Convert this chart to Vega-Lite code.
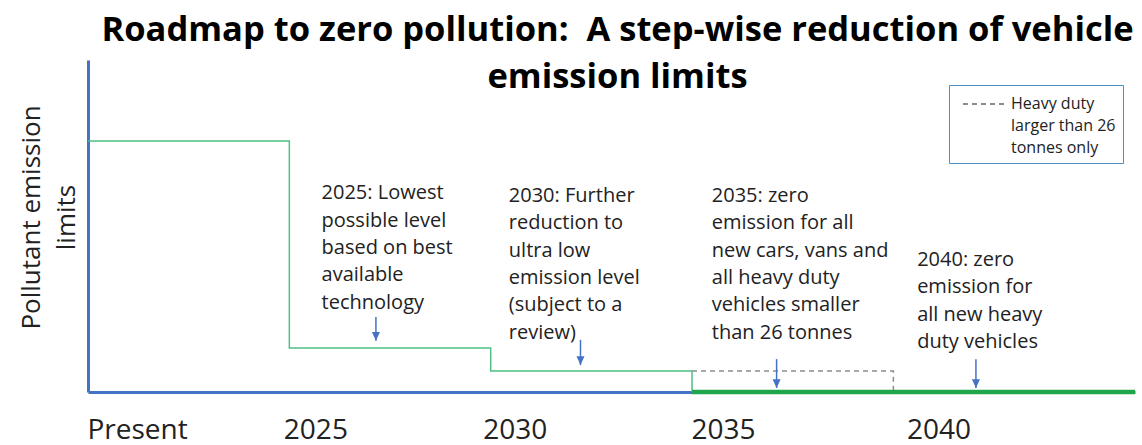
{
  "$schema": "https://vega.github.io/schema/vega-lite/v6.json",
  "width": 1047,
  "height": 332,
  "autosize": {"type": "none"},
  "padding": {"left": 88, "top": 60, "right": 7, "bottom": 53},
  "background": "white",
  "config": {"view": {"stroke": null}, "font": "Open Sans"},
  "title": {
    "text": ["Roadmap to zero pollution:\u00a0 A step-wise reduction of vehicle", "emission limits"],
    "font": "Open Sans", "fontSize": 34.5, "fontWeight": "bold", "color": "#000000",
    "anchor": "middle", "frame": "group", "lineHeight": 47, "offset": -35.5, "dx": 6
  },
  "datasets": {
    "steps": [
      {"year": 2020, "level": 75.6},
      {"year": 2025, "level": 13.25},
      {"year": 2030, "level": 6.3},
      {"year": 2035, "level": 0}
    ],
    "heavy": [
      {"year": 2035, "level": 6.3, "series": "Heavy duty larger than 26 tonnes only"},
      {"year": 2040, "level": 0, "series": "Heavy duty larger than 26 tonnes only"}
    ],
    "zero": [{"start": 2035, "end": 2046, "level": 0}],
    "arrows": [
      {"year": 2027.15, "from": 22.6, "to": 15.4},
      {"year": 2032.23, "from": 15.7, "to": 8.1},
      {"year": 2037.1, "from": 9.9, "to": 1.2},
      {"year": 2042.05, "from": 9.9, "to": 1.2}
    ],
    "notes": [
      {"year": 2025.8, "level": 58.0, "text": "2025: Lowest\npossible level\nbased on best\navailable\ntechnology"},
      {"year": 2030.45, "level": 57.2, "text": "2030: Further\nreduction to\nultra low\nemission level\n(subject to a\nreview)"},
      {"year": 2035.49, "level": 57.2, "text": "2035: zero\nemission for all\nnew cars, vans and\nall heavy duty\nvehicles smaller\nthan 26 tonnes"},
      {"year": 2040.59, "level": 37.95, "text": "2040: zero\nemission for\nall new heavy\nduty vehicles"}
    ]
  },
  "layer": [
    {
      "data": {"name": "steps"},
      "mark": {"type": "line", "interpolate": "step-after", "color": "#4fbf86", "strokeWidth": 1.5},
      "encoding": {
        "x": {
          "field": "year", "type": "quantitative",
          "scale": {"domain": [2020, 2046], "nice": false, "zero": false},
          "axis": {
            "values": [2020, 2025, 2030, 2035, 2040],
            "labelExpr": "datum.value == 2020 ? 'Present' : datum.label",
            "format": "d",
            "labelAlign": "left", "labelBaseline": "alphabetic", "labelPadding": 46,
            "labelOffset": {"expr": "datum.value == 2025 ? -6 : datum.value == 2030 ? -8 : datum.value == 2040 ? 13 : -1"},
            "labelFont": "Open Sans", "labelFontSize": 28, "labelColor": "#222222",
            "labelFlush": false, "labelOverlap": false,
            "domainColor": "#4472C4", "domainWidth": 3,
            "ticks": false, "tickSize": 0, "grid": false, "title": null
          }
        },
        "y": {
          "field": "level", "type": "quantitative",
          "scale": {"domain": [0, 100], "nice": false},
          "axis": {
            "title": ["Pollutant emission", "limits"],
            "domainColor": "#4472C4", "domainWidth": 3,
            "ticks": false, "tickSize": 0, "labels": false, "grid": false,
            "titleFont": "Open Sans", "titleFontSize": 26, "titleFontWeight": "normal",
            "titleColor": "#222222", "titleLineHeight": 35,
            "titleX": -49, "titleY": 157, "titleAlign": "center",
            "titleBaseline": "alphabetic", "titleAngle": -90
          }
        }
      }
    },
    {
      "data": {"name": "heavy"},
      "mark": {"type": "line", "interpolate": "step-after", "color": "#8c8c8c", "strokeWidth": 1.5},
      "encoding": {
        "x": {"field": "year", "type": "quantitative"},
        "y": {"field": "level", "type": "quantitative"},
        "strokeDash": {
          "field": "series", "type": "nominal",
          "scale": {"range": [[5, 4]]},
          "legend": {
            "orient": "none", "legendX": 861, "legendY": 25,
            "title": null,
            "symbolType": "M-2,0L2,0", "symbolSize": 484, "symbolStrokeWidth": 2,
            "symbolStrokeColor": "#8c8c8c", "symbolFillColor": "transparent",
            "symbolDash": [10, 6], "symbolOffset": 17,
            "labelExpr": "['Heavy duty', 'larger than 26', 'tonnes only']",
            "labelFont": "Open Sans", "labelFontSize": 16, "labelColor": "#222222",
            "labelLimit": 0, "labelOffset": 14,
            "strokeColor": "#4a90c2", "fillColor": "white", "padding": 7, "cornerRadius": 0,
            "encode": {"labels": {"update": {"lineHeight": {"value": 22}}}}
          }
        }
      }
    },
    {
      "data": {"name": "zero"},
      "mark": {"type": "rule", "color": "#1fa64d", "strokeWidth": 4.5},
      "encoding": {
        "x": {"field": "start", "type": "quantitative"},
        "x2": {"field": "end"},
        "y": {"field": "level", "type": "quantitative"}
      }
    },
    {
      "data": {"name": "arrows"},
      "mark": {"type": "rule", "color": "#4472C4", "strokeWidth": 1.5},
      "encoding": {
        "x": {"field": "year", "type": "quantitative"},
        "y": {"field": "from", "type": "quantitative"},
        "y2": {"field": "to"}
      }
    },
    {
      "data": {"name": "arrows"},
      "mark": {"type": "point", "shape": "M-1,-2.2L1,-2.2L0,0Z", "size": 64, "filled": true, "color": "#4472C4", "opacity": 1},
      "encoding": {
        "x": {"field": "year", "type": "quantitative"},
        "y": {"field": "to", "type": "quantitative"}
      }
    },
    {
      "data": {"name": "notes"},
      "mark": {"type": "text", "align": "left", "baseline": "alphabetic", "lineBreak": "\n", "font": "Open Sans", "fontSize": 20, "lineHeight": 27.3, "color": "#222222"},
      "encoding": {
        "x": {"field": "year", "type": "quantitative"},
        "y": {"field": "level", "type": "quantitative"},
        "text": {"field": "text", "type": "nominal"}
      }
    }
  ]
}
